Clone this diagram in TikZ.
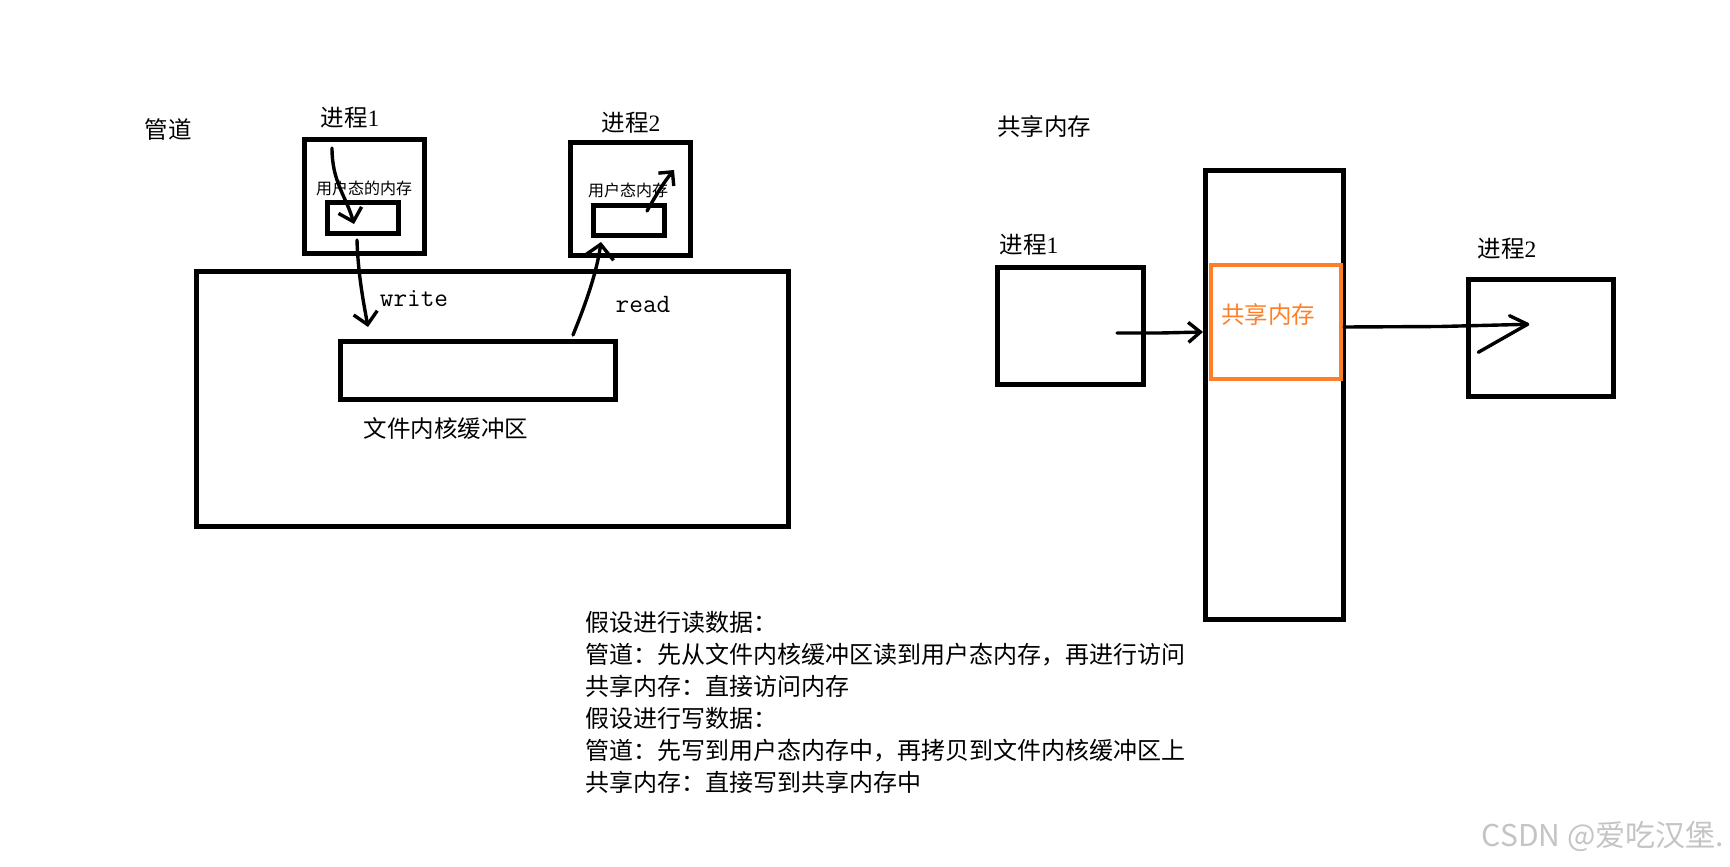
\documentclass[tikz,border=0pt]{standalone}
\usepackage{fontspec}
\setmainfont{Liberation Serif}
\newfontfamily\cjk{Noto Sans CJK SC}
\usetikzlibrary{arrows.meta}
\definecolor{orng}{RGB}{253,128,40}
\definecolor{wmark}{RGB}{196,196,196}
\begin{document}
\begin{tikzpicture}[x=1pt,y=-1pt,
  box/.style={draw=black,line width=5pt,inner sep=0pt,outer sep=0pt},
  hand/.style={line width=3.4pt,line cap=round,line join=round},
  barb/.style={-{Straight Barb[length=12pt,width=24pt]}},
  lbl/.style={inner sep=0pt,font=\fontsize{23.5}{28}\selectfont},
  small/.style={inner sep=0pt,font=\cjk\fontsize{16}{18}\selectfont},
  body/.style={inner sep=0pt,anchor=base west,font=\cjk\fontsize{24}{32}\selectfont},
  mono/.style={inner sep=0pt,font=\ttfamily\fontsize{26.5}{28}\selectfont},
]
\useasboundingbox (0,0) rectangle (1730,867);

% ---------- left: pipe ----------
\node[lbl] (tpipe) at (168,130) {\cjk 管道};
\node[lbl] (tp1) at (350,118) {{\cjk 进程}1};
\node[lbl] (tp2) at (631,123) {{\cjk 进程}2};

\node[box,minimum width=120pt,minimum height=114pt] (p1) at (364.5,196.5) {};
\node[box,minimum width=71pt,minimum height=31pt] (m1) at (363,218) {};
\node[box,minimum width=120pt,minimum height=113pt] (p2) at (630.5,199) {};
\node[box,minimum width=71pt,minimum height=30pt] (m2) at (629,220.5) {};
\node[box,minimum width=592pt,minimum height=254.5pt] (kern) at (492.5,398.75) {};
\node[box,minimum width=275pt,minimum height=58pt] (buf) at (478,370.5) {};

\node[small] (tm1) at (364,188) {用户态的内存};
\node[small] (tm2) at (628,190) {用户态内存};
\node[mono] (twr) at (414,299) {write};
\node[mono] (trd) at (643,304) {read};
\node[lbl] (tbuf) at (446,429) {\cjk 文件内核缓冲区};

\coordinate (w1s) at (332,148);
\coordinate (w1e) at (354,224);
\coordinate (w2s) at (357,240);
\coordinate (w2e) at (368,327);
\coordinate (r1s) at (573,335);
\coordinate (r1e) at (601,242);
\coordinate (r2s) at (647,211);
\coordinate (r2e) at (674,170);

\draw[hand,barb] (w1s) .. controls (332,182) and (346,196) .. (w1e);
\draw[hand,barb] (w2s) .. controls (358,275) and (364,305) .. (w2e);
\draw[hand,-{Straight Barb[length=14pt,width=30pt]}] (r1s) .. controls (588,298) and (597,270) .. (r1e);
\draw[hand,-{Straight Barb[length=10pt,width=20pt]}] (r2s) .. controls (656,195) and (664,182) .. (r2e);

% ---------- right: shared memory ----------
\node[lbl] (tshm) at (1044,127) {\cjk 共享内存};
\node[lbl] (tq1) at (1029,245) {{\cjk 进程}1};
\node[lbl] (tq2) at (1507,249) {{\cjk 进程}2};

\node[box,minimum width=145.7pt,minimum height=117.3pt] (q1) at (1070.3,326.2) {};
\node[box,minimum width=137.4pt,minimum height=448.4pt] (tall) at (1274.5,395) {};
\node[box,draw=orng,line width=4pt,minimum width=130pt,minimum height=114pt] (shm) at (1276,322) {};
\node[box,minimum width=144.7pt,minimum height=116.7pt] (q2) at (1540.8,338.2) {};
\node[lbl,text=orng] (tshm2) at (1268,315) {\cjk 共享内存};

\coordinate (a1s) at (1117,333);
\coordinate (a1e) at (1203,332);
\coordinate (a2s) at (1344,327);
\coordinate (a2e) at (1527.5,324.3);
\coordinate (a2u) at (1509.5,315.7);
\coordinate (a2l) at (1478.3,352.3);

\draw[hand,-{Straight Barb[length=12pt,width=20pt]}] (a1s) -- (1160,333) -- (a1e);
\draw[hand] (a2s) -- (1440,326.5) -- (a2e);
\draw[hand] (a2u) -- (a2e) -- (a2l);

% ---------- explanation ----------
\node[body] (l1) at (585,631) {假设进行读数据：};
\node[body] (l2) at (585,663) {管道：先从文件内核缓冲区读到用户态内存，再进行访问};
\node[body] (l3) at (585,695) {共享内存：直接访问内存};
\node[body] (l4) at (585,727) {假设进行写数据：};
\node[body] (l5) at (585,759) {管道：先写到用户态内存中，再拷贝到文件内核缓冲区上};
\node[body] (l6) at (585,791) {共享内存：直接写到共享内存中};

\node[inner sep=0pt,anchor=east,text=wmark,font=\cjk\fontsize{30}{32}\selectfont] (wm) at (1724,836) {CSDN @爱吃汉堡.};
\end{tikzpicture}
\end{document}
